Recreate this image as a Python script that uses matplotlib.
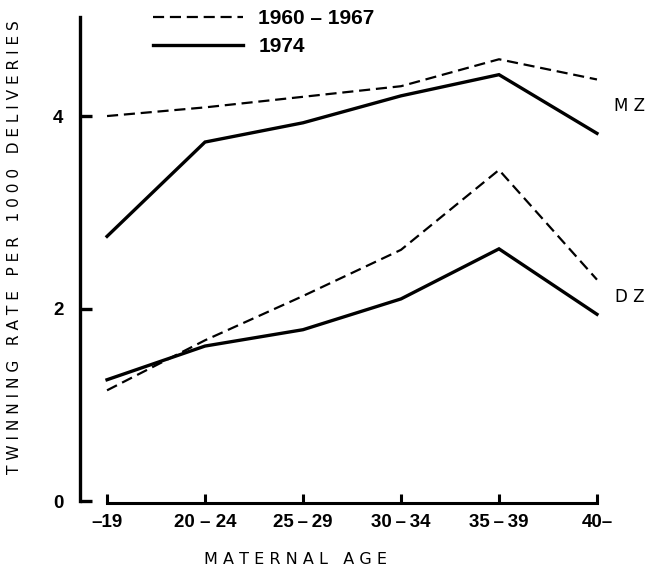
import numpy as np
import matplotlib
matplotlib.use('Agg')
import matplotlib.pyplot as plt

# twinning rate per 1000 deliveries by maternal age group
ages = ['\u201319', '20 \u2013 24', '25\u2009\u2013\u200929', '30\u2009\u2013\u200934',
        '35\u2009\u2013\u200939', '40\u2013']
mz_6067 = [4.00, 4.09, 4.20, 4.31, 4.59, 4.38]
mz_1974 = [2.75, 3.73, 3.93, 4.21, 4.43, 3.82]
dz_6067 = [1.15, 1.67, 2.13, 2.61, 3.44, 2.30]
dz_1974 = [1.26, 1.61, 1.78, 2.10, 2.62, 1.94]
yticks = [0, 2, 4]

W, H = 650, 573
fig = plt.figure(figsize=(W / 100, H / 100), dpi=100)
# axes box in pixels: left 70, right 610, top 15, bottom 510
ax = fig.add_axes([70 / W, 1 - 510 / H, 540 / W, 495 / H])
ax.set_xlim(-0.378, 5.133)
ax.set_ylim(-0.0935, 5.05)

x = np.arange(len(ages))
dash = dict(color='black', lw=1.6, ls=(0, (5, 2.6)))
solid = dict(color='black', lw=2.4, solid_joinstyle='miter')

l1, = ax.plot(x, mz_6067, **dash)
l2, = ax.plot(x, mz_1974, **solid)
ax.plot(x, dz_6067, **dash)
ax.plot(x, dz_1974, **solid)

font = 'DejaVu Sans'
num_font = ['Liberation Sans', 'DejaVu Sans']
ax.text(5.33, np.mean([mz_6067[-1], mz_1974[-1]]), 'M Z', ha='center',
        va='center', fontsize=12, family=font, clip_on=False)
ax.text(5.33, np.mean([dz_6067[-1], dz_1974[-1]]), 'D Z', ha='center',
        va='center', fontsize=12, family=font, clip_on=False)

# spines: detached y axis on the left, x axis spanning the groups
for s in ['top', 'right']:
    ax.spines[s].set_visible(False)
ax.spines['left'].set_position(('data', -0.276))
ax.spines['left'].set_bounds(0, 5.03)
ax.spines['left'].set_linewidth(2.4)
ax.spines['bottom'].set_position(('data', -0.02))
ax.spines['bottom'].set_bounds(0, 5)
ax.spines['bottom'].set_linewidth(2.2)

ax.set_xticks(x)
ax.set_xticklabels(ages, fontsize=13.5, family=num_font, fontweight='bold')
ax.set_yticks(yticks)
ax.set_yticklabels([str(v) for v in yticks], fontsize=13.5, family=num_font,
                   fontweight='bold')
ax.tick_params(axis='x', direction='in', length=6.5, width=2.2, pad=8)
ax.tick_params(axis='y', direction='in', length=8.5, width=2.4, pad=12)

fig.text(15 / W, 1 - 247 / H, 'T W I N N I N G   R A T E   P E R   1 0 0 0   D E L I V E R I E S',
         rotation=90, ha='center', va='center', fontsize=11.1, family=font)
fig.text(296 / W, 1 - 560 / H, 'M A T E R N A L   A G E', ha='center',
         va='center', fontsize=11.5, family=font)

leg = ax.legend([l1, l2], ['1960 \u2013 1967', '1974'], loc='upper left',
                bbox_to_anchor=(153 / W, 1 - 9 / H),
                bbox_transform=fig.transFigure, frameon=False,
                handlelength=4.3, handletextpad=0.75, labelspacing=0.45,
                borderpad=0, borderaxespad=0,
                prop=dict(family=num_font, size=15, weight='bold'))

fig.savefig('out.png', dpi=100)
